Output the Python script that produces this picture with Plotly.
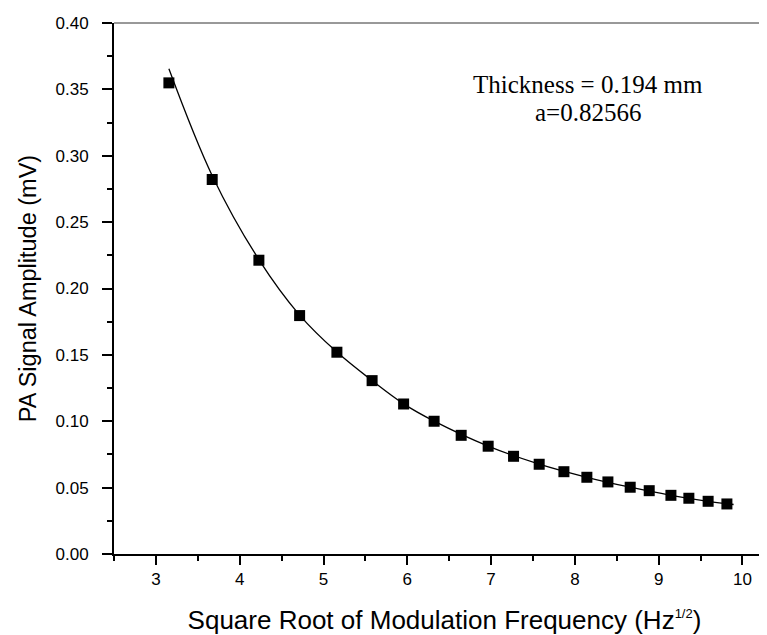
import plotly.graph_objects as go

# Measured data (square root of modulation frequency, PA signal amplitude)
sqrt_freq = [3.155, 3.672, 4.229, 4.715, 5.16, 5.58, 5.956, 6.32, 6.643, 6.965,
             7.268, 7.574, 7.869, 8.143, 8.394, 8.66, 8.887, 9.146, 9.36, 9.59, 9.814]
amplitude = [0.3549, 0.2821, 0.2213, 0.1796, 0.1520, 0.1306, 0.1130, 0.1000, 0.0894, 0.0812,
             0.0736, 0.0676, 0.0620, 0.0578, 0.0543, 0.0503, 0.0477, 0.0442, 0.0420, 0.0397, 0.0377]

# Fitted curve
fit_x = [3.155, 3.672, 4.229, 4.715, 5.16, 5.58, 5.956, 6.32, 6.965, 7.574,
         8.143, 8.66, 9.146, 9.59, 9.894]
fit_y = [0.3655, 0.2850, 0.2218, 0.1800, 0.1521, 0.1306, 0.1131, 0.1001, 0.0813, 0.0677,
         0.0578, 0.0503, 0.0442, 0.0397, 0.0373]

x_tick_vals = [3, 4, 5, 6, 7, 8, 9, 10]
y_tick_vals = [0.00, 0.05, 0.10, 0.15, 0.20, 0.25, 0.30, 0.35, 0.40]

annot_lines = ["Thickness = 0.194 mm", "a=0.82566"]

SANS = "Liberation Sans, Arial, sans-serif"
SERIF = "Liberation Serif, Times New Roman, serif"

fig = go.Figure()
fig.add_trace(go.Scatter(
    x=fit_x, y=fit_y, mode="lines",
    line=dict(color="black", width=1.3, shape="spline", smoothing=1.0),
    showlegend=False, hoverinfo="skip"))
fig.add_trace(go.Scatter(
    x=sqrt_freq, y=amplitude, mode="markers",
    marker=dict(symbol="square", size=11, color="black"),
    showlegend=False))

tick_font = dict(family=SANS, size=17, color="black")

fig.update_layout(
    width=767, height=635,
    margin=dict(l=106, r=0, t=15, b=89, autoexpand=False),
    paper_bgcolor="white", plot_bgcolor="white",
    font=dict(family=SANS, color="black"),
    xaxis=dict(
        range=[2.5, 10.388], tickvals=x_tick_vals, ticktext=[str(v) for v in x_tick_vals],
        ticks="outside", ticklen=9, tickwidth=1.5, tickcolor="black",
        minor=dict(dtick=0.5, tick0=2.5, ticks="outside", ticklen=5, tickwidth=1.5, tickcolor="black"),
        showline=True, linecolor="black", linewidth=2, showgrid=False, zeroline=False,
        tickfont=tick_font,
        title=dict(text="Square Root of Modulation Frequency (Hz<sup><span style=\"font-size:13px\">1/2</span></sup>)",
                   font=dict(family=SANS, size=26, color="black"),
                   standoff=22),
    ),
    yaxis=dict(
        range=[0, 0.40], tickvals=y_tick_vals, tickformat=".2f",
        ticks="outside", ticklen=10, tickwidth=1.5, tickcolor="black",
        ticklabelstandoff=10,
        minor=dict(dtick=0.025, tick0=0, ticks="outside", ticklen=5, tickwidth=1.5, tickcolor="black"),
        showline=True, linecolor="black", linewidth=2, showgrid=False, zeroline=False,
        tickfont=tick_font,
        title=dict(text="PA Signal Amplitude (mV)",
                   font=dict(family=SANS, size=23.5, color="black"),
                   standoff=12),
    ),
    shapes=[dict(type="line", xref="paper", yref="paper", x0=0, x1=1, y0=1, y1=1,
                 line=dict(color="#333333", width=1))],
    annotations=[
        dict(x=8.155, y=0.3536, xref="x", yref="y", text=annot_lines[0], showarrow=False,
             xanchor="center", yanchor="middle",
             font=dict(family=SERIF, size=25, color="black")),
        dict(x=8.155, y=0.3325, xref="x", yref="y", text=annot_lines[1], showarrow=False,
             xanchor="center", yanchor="middle",
             font=dict(family=SERIF, size=25, color="black")),
    ],
)

fig.write_html("out.html")
